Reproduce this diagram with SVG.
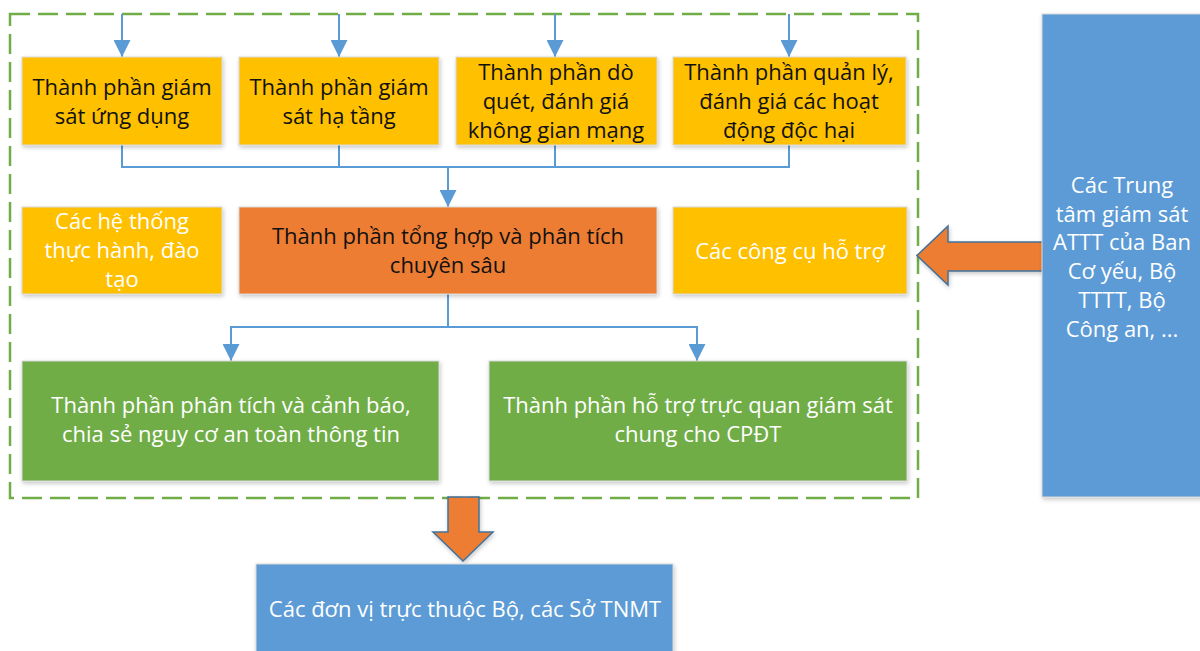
<svg xmlns="http://www.w3.org/2000/svg" width="1200" height="651" viewBox="0 0 1200 651">
  <defs>
    <filter id="shadow" x="-10%" y="-10%" width="130%" height="140%">
      <feDropShadow dx="1" dy="2" stdDeviation="2" flood-color="#000" flood-opacity="0.22"/>
    </filter>
    <marker id="tri" markerUnits="userSpaceOnUse" markerWidth="17" markerHeight="17" refX="17" refY="8.5" orient="auto">
      <path d="M0,0 L17,8.5 L0,17 z" fill="#5B9BD5"/>
    </marker>
    <style>
      .box { stroke: #d9d9d9; stroke-width: 1; filter: url(#shadow); }
      .yellow { fill: #FFC000; }
      .orange { fill: #ED7D31; }
      .green { fill: #70AD47; }
      .blue { fill: #5B9BD5; }
      .lbl { font-family: "Open Sans", "Noto Sans", "Liberation Sans", sans-serif; font-size: 22px; text-anchor: middle; }
      .dark { fill: #111111; }
      .light { fill: #ffffff; }
      .conn { fill: none; stroke: #5B9BD5; stroke-width: 2; }
      .block { fill: #ED7D31; stroke: #41719C; stroke-width: 1.5; stroke-linejoin: miter; filter: url(#shadow); }
      .frame { fill: none; stroke: #70AD47; stroke-width: 2.5; stroke-dasharray: 20 8; }
    </style>
  </defs>

  <rect width="1200" height="651" fill="#ffffff"/>

  <!-- dashed boundary of the monitoring system -->
  <rect class="frame" x="10" y="14" width="908" height="484"/>

  <!-- connectors -->
  <g id="connectors">
    <line class="conn" x1="122" y1="14" x2="122" y2="57" marker-end="url(#tri)"/>
    <line class="conn" x1="339" y1="14" x2="339" y2="57" marker-end="url(#tri)"/>
    <line class="conn" x1="555" y1="14" x2="555" y2="57" marker-end="url(#tri)"/>
    <line class="conn" x1="789" y1="14" x2="789" y2="57" marker-end="url(#tri)"/>
    <path class="conn" d="M122,145 V167 H789 V145"/>
    <path class="conn" d="M339,145 V167"/>
    <path class="conn" d="M555,145 V167"/>
    <path class="conn" d="M448,167 V207" marker-end="url(#tri)"/>
    <path class="conn" d="M448,294 V327 H231 V361" marker-end="url(#tri)"/>
    <path class="conn" d="M448,327 H697 V361" marker-end="url(#tri)"/>
    <!-- block arrows -->
    <path class="block" d="M1043,242 H948 V226 L917,255.5 L948,285 V271 H1043 z"/>
    <path class="block" d="M448,497 V532 H433 L463,561 L493,532 H479 V497 z"/>
  </g>

  <g id="node-app-monitor">
    <rect class="box yellow" x="22" y="57" width="200" height="88"/>
    <text class="lbl dark" x="122" y="95">Thành phần giám</text>
    <text class="lbl dark" x="122" y="124">sát ứng dụng</text>
  </g>

  <g id="node-infra-monitor">
    <rect class="box yellow" x="239" y="57" width="200" height="88"/>
    <text class="lbl dark" x="339" y="95">Thành phần giám</text>
    <text class="lbl dark" x="339" y="124">sát hạ tầng</text>
  </g>

  <g id="node-scan">
    <rect class="box yellow" x="456" y="57" width="201" height="88"/>
    <text class="lbl dark" x="556" y="80">Thành phần dò</text>
    <text class="lbl dark" x="556" y="109">quét, đánh giá</text>
    <text class="lbl dark" x="556" y="138">không gian mạng</text>
  </g>

  <g id="node-malicious">
    <rect class="box yellow" x="673" y="57" width="233" height="88"/>
    <text class="lbl dark" x="789" y="80">Thành phần quản lý,</text>
    <text class="lbl dark" x="789" y="109">đánh giá các hoạt</text>
    <text class="lbl dark" x="789" y="138">động độc hại</text>
  </g>

  <g id="node-training">
    <rect class="box yellow" x="22" y="207" width="200" height="87"/>
    <text class="lbl light" x="122" y="229">Các hệ thống</text>
    <text class="lbl light" x="122" y="258">thực hành, đào</text>
    <text class="lbl light" x="122" y="287">tạo</text>
  </g>

  <g id="node-analysis">
    <rect class="box orange" x="239" y="207" width="418" height="87"/>
    <text class="lbl dark" x="448" y="244">Thành phần tổng hợp và phân tích</text>
    <text class="lbl dark" x="448" y="273">chuyên sâu</text>
  </g>

  <g id="node-tools">
    <rect class="box yellow" x="673" y="207" width="234" height="87"/>
    <text class="lbl light" x="790" y="259">Các công cụ hỗ trợ</text>
  </g>

  <g id="node-warning">
    <rect class="box green" x="22" y="361" width="417" height="120"/>
    <text class="lbl light" x="231" y="413">Thành phần phân tích và cảnh báo,</text>
    <text class="lbl light" x="231" y="442">chia sẻ nguy cơ an toàn thông tin</text>
  </g>

  <g id="node-visual">
    <rect class="box green" x="489" y="361" width="418" height="120"/>
    <text class="lbl light" x="698" y="413">Thành phần hỗ trợ trực quan giám sát</text>
    <text class="lbl light" x="698" y="442">chung cho CPĐT</text>
  </g>

  <g id="node-centers">
    <rect class="box blue" x="1042" y="14" width="162" height="483"/>
    <text class="lbl light" x="1122" y="193">Các Trung</text>
    <text class="lbl light" x="1122" y="222">tâm giám sát</text>
    <text class="lbl light" x="1122" y="250">ATTT của Ban</text>
    <text class="lbl light" x="1122" y="279">Cơ yếu, Bộ</text>
    <text class="lbl light" x="1122" y="308">TTTT, Bộ</text>
    <text class="lbl light" x="1122" y="337">Công an, ...</text>
  </g>

  <g id="node-units">
    <rect class="box blue" x="256" y="564" width="417" height="95"/>
    <text class="lbl light" x="465" y="617">Các đơn vị trực thuộc Bộ, các Sở TNMT</text>
  </g>
</svg>
